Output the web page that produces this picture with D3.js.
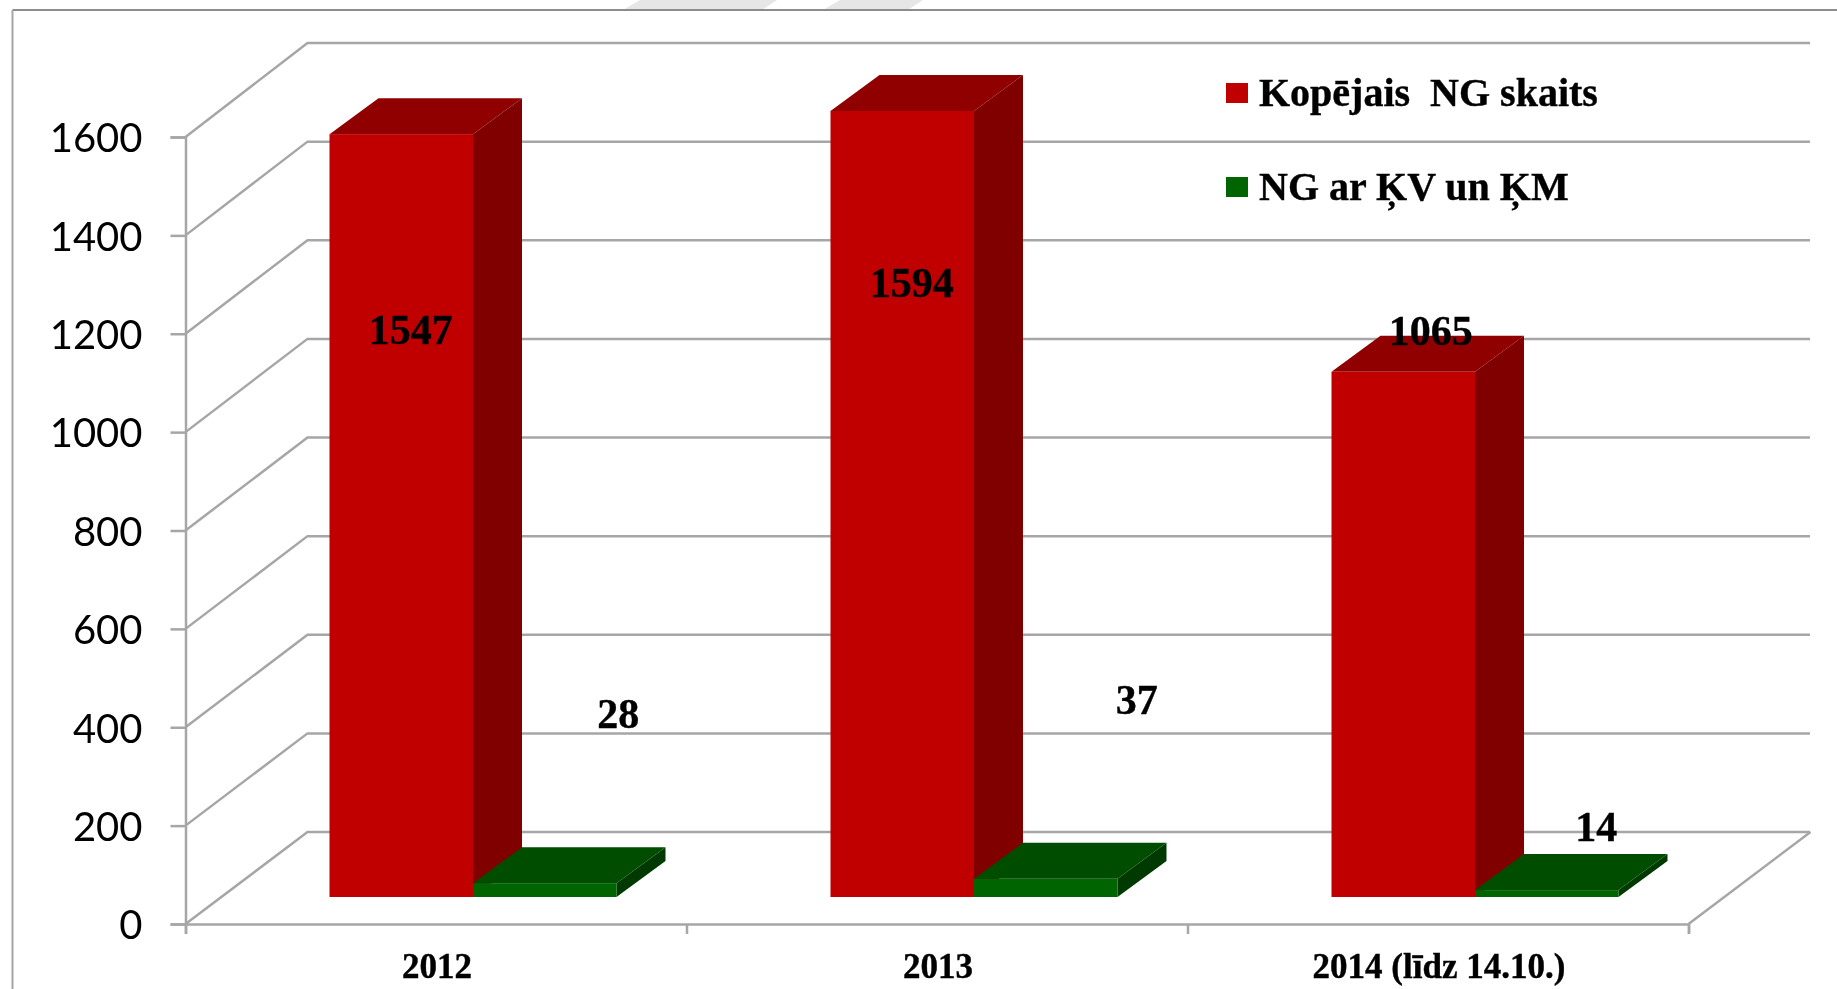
<!DOCTYPE html>
<html lang="en">
<head>
<meta charset="UTF-8">
<title>NG skaits</title>
<script src="https://d3js.org/d3.v7.min.js"></script>
<style>
    html, body { margin: 0; padding: 0; background: #fff; overflow: hidden; }
    svg { display: block; filter: blur(0.5px); }
    .serif { font-family: "Liberation Serif", serif; font-weight: bold; fill: #000; stroke: #000; stroke-width: 0.4px; }
</style>
</head>
<body>
<div id="container"></div>
<script>
// data
var categories = ["2012", "2013", "2014 (līdz 14.10.)"];
var seriesNames = ["Kopējais  NG skaits", "NG ar ĶV un ĶM"];
var totalCases = [1547, 1594, 1065];
var withComplications = [28, 37, 14];
var yTicks = [0, 200, 400, 600, 800, 1000, 1200, 1400, 1600];

// the labels were moved by hand in the original, offsets from bar centre / bar top
var labelNudge = [
    [[9.5, 210], [9.5, 186], [27.5, -27]],
    [[73.5, -155], [91, -165], [49.5, -49]]
];

var width = 1837, height = 989;
var wallDx = 122;                 // floor depth
var barDx = 49, barDy = -36;      // bar depth
var inDx = 36;                    // bars sit this far in from the front edge

var colors = [
    {front: "#C00000", top: "#900000", side: "#800000"},
    {front: "#006400", top: "#004D00", side: "#003A00"}
];

var svg = d3.select("#container").append("svg").attr("width", width).attr("height", height);

// scales: front edge, back wall and bar plane differ a little because of the perspective
var y = d3.scaleLinear().domain([0, 1600]).range([924, 137]);
var yBack = d3.scaleLinear().domain([0, 1600]).range([832, 43]);
var yBar = d3.scaleLinear().domain([0, 1600]).range([897, 108]);
var x = d3.scaleBand().domain(categories).range([185.5, 1688.5]);
var x1 = d3.scaleBand().domain([0, 1]).range([108, 395]);

// faint shapes above the frame
svg.append("g").selectAll("path").data([[623, 640, 777, 762], [823, 840, 923, 908]]).join("path")
    .attr("d", function(d) { return "M" + d[0] + ",10L" + d[1] + ",0H" + d[2] + "L" + d[3] + ",10Z"; })
    .attr("fill", "#e6e6e6");

// outer frame
svg.append("path")
    .attr("d", "M" + width + ",10H12.5")
    .attr("fill", "none").attr("stroke", "#8c8c8c").attr("stroke-width", 2);
svg.append("path")
    .attr("d", "M12.5,10V" + height)
    .attr("fill", "none").attr("stroke", "#a6a6a6").attr("stroke-width", 2);

// back wall gridlines and the slanted lines on the left wall
var grid = svg.append("g").attr("fill", "none").attr("stroke", "#a6a6a6").attr("stroke-width", 2.5);
grid.selectAll("path").data(yTicks).join("path")
    .attr("d", function(d) {
        return "M" + x.range()[0] + "," + y(d) + "L" + (x.range()[0] + wallDx) + "," + yBack(d) + "H" + (x.range()[1] + wallDx - 0.5);
    });
// floor right edge
grid.append("path")
    .attr("d", "M" + x.range()[1] + "," + y(0) + "L" + (x.range()[1] + wallDx) + "," + yBack(0));

// axes
var axisLeft = d3.axisLeft(y).tickValues(yTicks).tickSize(15).tickPadding(28).tickFormat(d3.format("d"));
var gy = svg.append("g").attr("transform", "translate(" + x.range()[0] + ",0)").call(axisLeft);
gy.selectAll("path, line").attr("stroke", "#a6a6a6").attr("stroke-width", 2.5);
gy.selectAll("text").attr("font-family", "Lato").attr("font-size", 40).attr("fill", "#000").attr("dy", "0.37em");

var xTickVals = x.domain().map(function(d) { return x(d); }).concat(x.range()[1]);
var axisBottom = d3.axisBottom(d3.scaleLinear().domain(x.range()).range(x.range()))
    .tickValues(xTickVals).tickSize(10).tickFormat("");
var gx = svg.append("g").attr("transform", "translate(0," + y(0) + ")").call(axisBottom);
gx.selectAll("path, line").attr("stroke", "#a6a6a6").attr("stroke-width", 2.5);

svg.append("g").selectAll("text").data(categories).join("text")
    .attr("class", "serif")
    .attr("x", function(d) { return x(d) + x.bandwidth() / 2 + 1; })
    .attr("y", 978)
    .attr("text-anchor", "middle")
    .attr("font-size", 35)
    .text(function(d) { return d; });

// 3d bars
var series = [totalCases, withComplications];
var base = yBar(0);
series.forEach(function(values, s) {
    var g = svg.append("g");
    var bw = x1.bandwidth();
    values.forEach(function(v, i) {
        var left = x(categories[i]) + inDx + x1(s);
        var top = yBar(v);
        g.append("path").attr("fill", colors[s].side)
            .attr("d", "M" + (left + bw) + "," + top + "l" + barDx + "," + barDy + "V" + (base + barDy) + "l" + (-barDx) + "," + (-barDy) + "Z");
        g.append("path").attr("fill", colors[s].top)
            .attr("d", "M" + left + "," + top + "l" + barDx + "," + barDy + "h" + bw + "l" + (-barDx) + "," + (-barDy) + "Z");
        g.append("rect").attr("fill", colors[s].front)
            .attr("x", left).attr("y", top).attr("width", bw).attr("height", base - top);
    });
});

// value labels, on top of all bars
series.forEach(function(values, s) {
    svg.append("g").selectAll("text").data(values).join("text")
        .attr("class", "serif")
        .attr("text-anchor", "middle")
        .attr("font-size", 42)
        .attr("x", function(d, i) { return x(categories[i]) + inDx + x1(s) + x1.bandwidth() / 2 + labelNudge[s][i][0]; })
        .attr("y", function(d, i) { return yBar(d) + labelNudge[s][i][1]; })
        .text(function(d) { return d; });
});

// legend
var legend = svg.append("g").selectAll("g").data(seriesNames).join("g")
    .attr("transform", function(d, i) { return "translate(1226," + (83 + i * 94) + ")"; });
legend.append("rect").attr("width", 22).attr("height", 20)
    .attr("fill", function(d, i) { return colors[i].front; });
legend.append("text")
    .attr("class", "serif")
    .attr("x", 33).attr("y", 23)
    .attr("font-size", 40)
    .style("white-space", "pre")
    .text(function(d) { return d; });
</script>
</body>
</html>
